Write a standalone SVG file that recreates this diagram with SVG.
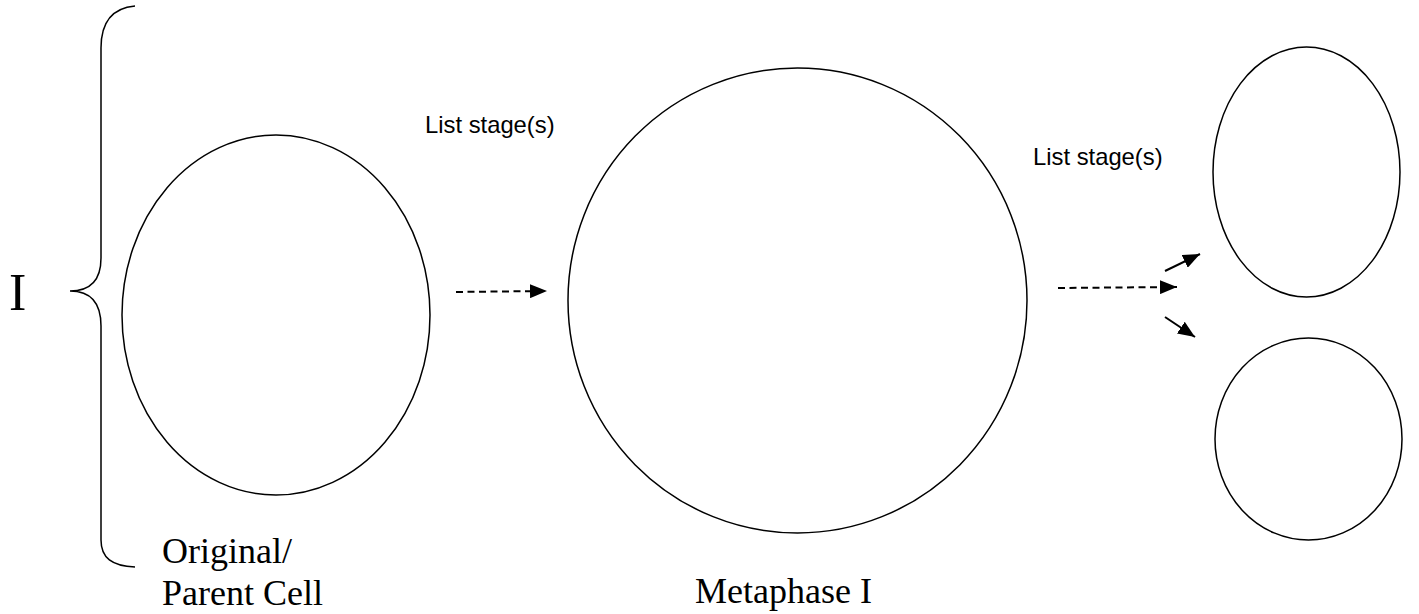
<svg xmlns="http://www.w3.org/2000/svg" width="1419" height="614" viewBox="0 0 1419 614">
<style>
.cell{fill:none;stroke:#000;stroke-width:1.5}
.serif{font-family:"Liberation Serif","Times New Roman",serif;fill:#000}
.sans{font-family:"Liberation Sans",Arial,sans-serif;fill:#000;font-size:23.8px}
.dash{stroke:#000;stroke-width:2;stroke-dasharray:7,4.5;fill:none}
.solid{stroke:#000;stroke-width:2;fill:none}
</style>
<defs>
<marker id="ahb" markerWidth="17" markerHeight="14" refX="17" refY="7" orient="auto" markerUnits="userSpaceOnUse" viewBox="0 0 17 14">
<path d="M0,0 L17,7 L0,14 z" fill="#000"/>
</marker>
</defs>
<g id="brace">
<path class="cell" d="M135,6 C112,8 101,22 101,48 L101,258 C101,280 90,291 70,291 C90,291 101,302 101,326 L101,540 C101,558 112,566 135,567"/>
<text class="serif" x="9" y="310" font-size="52">I</text>
</g>
<g id="parent-cell">
<ellipse class="cell" cx="276" cy="315" rx="154" ry="180"/>
<text class="serif" x="162" y="563" font-size="36">Original/</text>
<text class="serif" x="162" y="605" font-size="36">Parent Cell</text>
</g>
<g id="metaphase">
<ellipse class="cell" cx="797.5" cy="300.5" rx="229.5" ry="232.5"/>
<text class="serif" x="695" y="603" font-size="36">Metaphase I</text>
</g>
<g id="daughter-top">
<ellipse class="cell" cx="1306.5" cy="172" rx="93.5" ry="125"/>
</g>
<g id="daughter-bottom">
<ellipse class="cell" cx="1308.5" cy="439" rx="93.5" ry="101"/>
</g>
<g id="labels">
<text class="sans" x="425" y="133">List stage(s)</text>
<text class="sans" x="1033" y="165">List stage(s)</text>
</g>
<g id="connectors">
<line class="dash" x1="456" y1="292" x2="547" y2="291" marker-end="url(#ahb)"/>
<line class="dash" x1="1058" y1="288" x2="1177" y2="287" marker-end="url(#ahb)"/>
<line class="solid" x1="1165" y1="271" x2="1200" y2="254" marker-end="url(#ahb)"/>
<line class="solid" x1="1165" y1="317" x2="1195" y2="337" marker-end="url(#ahb)"/>
</g>
</svg>
